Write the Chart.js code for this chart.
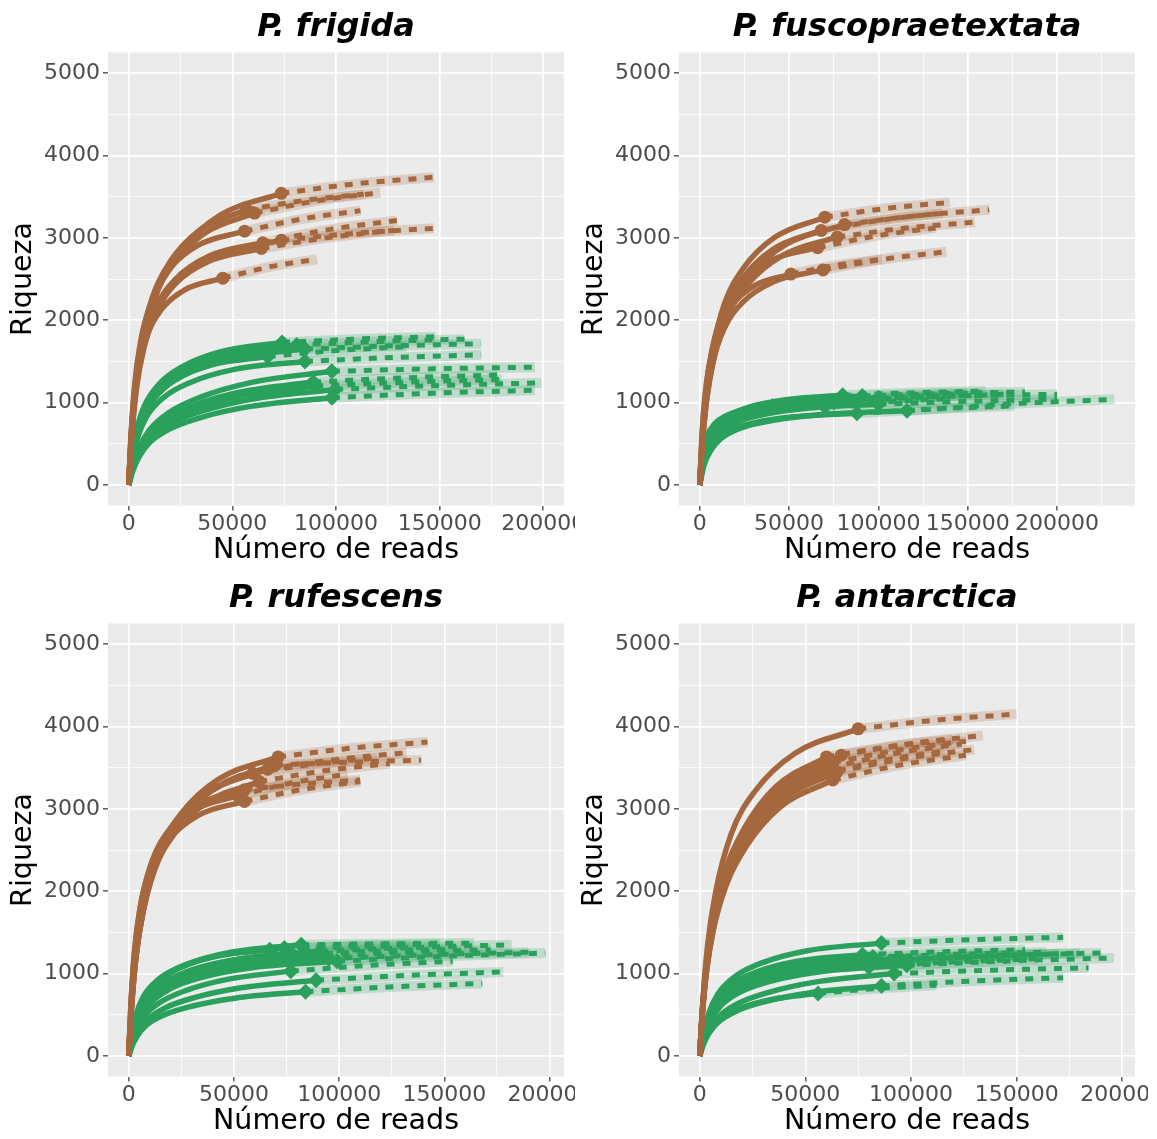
<!DOCTYPE html>
<html>
<head>
<meta charset="utf-8">
<script src="https://cdn.jsdelivr.net/npm/chart.js@4.4.0/dist/chart.umd.min.js"></script>
<style>
  html, body { margin: 0; padding: 0; background: #fff; overflow: hidden; }
  body { width: 1157px; height: 1139px; position: relative; }
  canvas { position: absolute; }
</style>
</head>
<body>
<canvas id="frigida" width="575" height="570" style="left:0;top:0"></canvas>
<canvas id="fusco" width="586" height="570" style="left:571px;top:0"></canvas>
<canvas id="rufescens" width="575" height="570" style="left:0;top:571px"></canvas>
<canvas id="antarctica" width="577" height="570" style="left:571px;top:571px"></canvas>
<script>
// Rarefaction / extrapolation curves, one panel per species

// Sampling of each curve: fraction of the observed number of reads
const depthFractions = [0, 0.02, 0.05, 0.1, 0.2, 0.35, 0.6, 1];
const extrapFactors = [1, 1.5, 2];

// Grid / tick values
const xGridValues = [0, 25000, 50000, 75000, 100000, 125000, 150000, 175000, 200000, 225000];
const yGridValues = [0, 500, 1000, 1500, 2000, 2500, 3000, 3500, 4000, 4500, 5000];

// P. frigida
const frigidaBrownReads = [73600, 60700, 56700, 55900, 64700, 73600, 64000, 45400];
const frigidaBrownRich = [
    [0, 602, 1204, 1770, 2407, 2867, 3275, 3540],
    [0, 561, 1122, 1650, 2244, 2673, 3053, 3300],
    [0, 568, 1136, 1670, 2271, 2705, 3090, 3340],
    [0, 616, 1201, 1725, 2248, 2618, 2911, 3080],
    [0, 588, 1147, 1646, 2146, 2499, 2778, 2940],
    [0, 594, 1158, 1663, 2168, 2525, 2807, 2970],
    [0, 574, 1119, 1607, 2095, 2440, 2712, 2870],
    [0, 502, 979, 1406, 1832, 2134, 2372, 2510]
];
const frigidaBrownExtrap = [[3657, 3735], [3450, 3550], [3454, 3530], [3230, 3330], [3102, 3210], [3057, 3115], [3002, 3090], [2648, 2740]];

const frigidaGreenReads = [74000, 81000, 85000, 67000, 85000, 98000, 89000, 90000, 99600, 98000];
const frigidaGreenRich = [
    [0, 346, 657, 952, 1228, 1436, 1618, 1730],
    [0, 340, 646, 935, 1207, 1411, 1590, 1700],
    [0, 330, 627, 908, 1172, 1370, 1543, 1650],
    [0, 312, 593, 858, 1108, 1295, 1459, 1560],
    [0, 300, 570, 825, 1065, 1245, 1403, 1500],
    [0, 221, 442, 662, 883, 1063, 1242, 1380],
    [0, 200, 400, 600, 800, 963, 1125, 1250],
    [0, 192, 384, 576, 768, 924, 1080, 1200],
    [0, 186, 371, 557, 742, 893, 1044, 1160],
    [0, 170, 339, 509, 678, 816, 954, 1060]
];
const frigidaGreenExtrap = [[1772, 1800], [1742, 1770], [1689, 1715], [1632, 1680], [1548, 1580], [1410, 1430], [1301, 1335], [1248, 1280], [1208, 1240], [1114, 1150]];

// P. fuscopraetextata
const fuscoBrownReads = [70000, 81000, 68000, 77000, 66000, 51000, 69000];
const fuscoBrownRich = [
    [0, 553, 1105, 1625, 2210, 2633, 3006, 3250],
    [0, 537, 1074, 1580, 2149, 2560, 2923, 3160],
    [0, 525, 1051, 1545, 2101, 2503, 2858, 3090],
    [0, 512, 1023, 1505, 2047, 2438, 2784, 3010],
    [0, 576, 1123, 1613, 2102, 2448, 2722, 2880],
    [0, 512, 998, 1434, 1869, 2176, 2419, 2560],
    [0, 522, 1018, 1462, 1905, 2219, 2466, 2610]
];
const fuscoBrownExtrap = [[3358, 3430], [3268, 3340], [3216, 3300], [3118, 3190], [3024, 3120], [2668, 2740], [2742, 2830]];

const fuscoGreenReads = [40800, 80000, 91000, 100000, 88000, 116000, 100000, 75000, 70000, 85000];
const fuscoGreenRich = [
    [0, 250, 432, 595, 739, 835, 912, 960],
    [0, 283, 491, 676, 839, 948, 1036, 1090],
    [0, 281, 486, 670, 832, 940, 1026, 1080],
    [0, 276, 477, 657, 816, 922, 1007, 1060],
    [0, 226, 392, 539, 670, 757, 827, 870],
    [0, 234, 405, 558, 693, 783, 855, 900],
    [0, 255, 441, 608, 755, 853, 931, 980],
    [0, 260, 450, 620, 770, 870, 950, 1000],
    [0, 247, 428, 589, 732, 827, 903, 950],
    [0, 265, 459, 632, 785, 887, 969, 1020]
];
const fuscoGreenExtrap = [[1020, 1060], [1120, 1140], [1110, 1130], [1084, 1100], [924, 960], [984, 1040], [1016, 1040], [1066, 1110], [1010, 1050], [1068, 1100]];

// P. rufescens
const rufescensBrownReads = [71000, 69500, 66000, 59000, 62000, 55000, 52000, 55000];
const rufescensBrownRich = [
    [0, 617, 1234, 1815, 2468, 2940, 3358, 3630],
    [0, 600, 1200, 1765, 2400, 2859, 3265, 3530],
    [0, 592, 1183, 1740, 2366, 2819, 3219, 3480],
    [0, 583, 1166, 1715, 2332, 2778, 3173, 3430],
    [0, 566, 1132, 1665, 2264, 2697, 3080, 3330],
    [0, 646, 1260, 1809, 2358, 2746, 3052, 3230],
    [0, 632, 1232, 1770, 2307, 2686, 2986, 3160],
    [0, 618, 1205, 1730, 2256, 2627, 2920, 3090]
];
const rufescensBrownExtrap = [[3738, 3810], [3566, 3590], [3600, 3680], [3544, 3620], [3462, 3550], [3302, 3350], [3316, 3420], [3234, 3330]];

const rufescensGreenReads = [82000, 67000, 74000, 91000, 78000, 86000, 99000, 95000, 77000, 89000, 84000];
const rufescensGreenRich = [
    [0, 270, 513, 743, 959, 1121, 1262, 1350],
    [0, 258, 490, 710, 916, 1071, 1206, 1290],
    [0, 262, 498, 721, 930, 1087, 1225, 1310],
    [0, 254, 483, 699, 902, 1054, 1187, 1270],
    [0, 246, 467, 677, 873, 1021, 1150, 1230],
    [0, 240, 456, 660, 852, 996, 1122, 1200],
    [0, 230, 437, 633, 817, 955, 1075, 1150],
    [0, 236, 448, 649, 838, 979, 1103, 1180],
    [0, 165, 330, 494, 659, 793, 927, 1030],
    [0, 147, 294, 442, 589, 708, 828, 920],
    [0, 125, 250, 374, 499, 601, 702, 780]
];
const rufescensGreenExtrap = [[1362, 1370], [1320, 1340], [1340, 1360], [1318, 1350], [1272, 1300], [1254, 1290], [1210, 1250], [1228, 1260], [1102, 1150], [980, 1020], [840, 880]];

// P. antarctica
const antarcticaBrownReads = [75000, 67000, 60000, 63000, 62000, 65000, 63000, 58000];
const antarcticaBrownRich = [
    [0, 675, 1350, 1985, 2700, 3216, 3672, 3970],
    [0, 548, 1095, 1643, 2263, 2774, 3285, 3650],
    [0, 545, 1089, 1634, 2251, 2759, 3267, 3630],
    [0, 534, 1068, 1602, 2207, 2706, 3204, 3560],
    [0, 525, 1050, 1575, 2170, 2660, 3150, 3500],
    [0, 518, 1035, 1553, 2139, 2622, 3105, 3450],
    [0, 503, 1005, 1508, 2077, 2546, 3015, 3350],
    [0, 513, 1026, 1539, 2120, 2599, 3078, 3420]
];
const antarcticaBrownExtrap = [[4078, 4150], [3794, 3890], [3756, 3840], [3716, 3820], [3674, 3790], [3612, 3720], [3530, 3650], [3588, 3700]];

const antarcticaGreenReads = [86000, 77000, 82000, 90000, 98000, 92000, 86000, 56000, 80000, 95000, 85000];
const antarcticaGreenRich = [
    [0, 274, 521, 754, 973, 1137, 1281, 1370],
    [0, 246, 467, 677, 873, 1021, 1150, 1230],
    [0, 240, 456, 660, 852, 996, 1122, 1200],
    [0, 230, 437, 633, 817, 955, 1075, 1150],
    [0, 220, 418, 605, 781, 913, 1029, 1100],
    [0, 160, 320, 480, 640, 770, 900, 1000],
    [0, 136, 272, 408, 544, 655, 765, 850],
    [0, 122, 243, 365, 486, 585, 684, 760],
    [0, 216, 410, 594, 767, 896, 1010, 1080],
    [0, 236, 448, 649, 838, 979, 1103, 1180],
    [0, 230, 437, 633, 817, 955, 1075, 1150]
];
const antarcticaGreenExtrap = [[1412, 1440], [1266, 1290], [1236, 1260], [1210, 1250], [1154, 1190], [1042, 1070], [910, 950], [820, 860], [1140, 1180], [1222, 1250], [1204, 1240]];

// Colours
const BROWN = '#A5683E';
const GREEN = '#2AA05D';
const BROWN_BAND = 'rgba(165, 104, 62, 0.22)';
const GREEN_BAND = 'rgba(42, 160, 93, 0.22)';
const FONT = 'DejaVu Sans';

// Grey panel background behind the grid
const panelBackground = {
    id: 'panelBackground',
    beforeDraw(chart) {
        const { ctx, chartArea: a } = chart;
        ctx.save();
        ctx.fillStyle = '#EBEBEB';
        ctx.fillRect(a.left, a.top, a.right - a.left, a.bottom - a.top);
        ctx.restore();
    }
};

// Build the datasets of one group (solid rarefaction, band, dashed extrapolation, marker)
function groupDatasets(reads, rich, extrap, color, band, marker, layer) {
    const sets = [];
    reads.forEach((n, i) => {
        const obs = rich[i][rich[i].length - 1];
        const ext = extrapFactors.map((f, j) => ({ x: f * n, y: j === 0 ? obs : extrap[i][j - 1] }));
        sets.push({
            data: depthFractions.map((f, j) => ({ x: f * n, y: rich[i][j] })),
            borderColor: color, borderWidth: 5.5, pointRadius: 0,
            cubicInterpolationMode: 'monotone', order: 20 + layer
        });
        sets.push({
            data: ext, borderColor: band, borderWidth: 10, pointRadius: 0,
            cubicInterpolationMode: 'monotone', order: 40 + layer
        });
        sets.push({
            data: ext, borderColor: color, borderWidth: 5, borderDash: [8, 8], pointRadius: 0,
            cubicInterpolationMode: 'monotone', order: 30 + layer
        });
        sets.push({
            data: [{ x: n, y: obs }], showLine: false, pointStyle: marker,
            pointRadius: marker === 'circle' ? 6.5 : 8, pointBackgroundColor: color,
            pointBorderWidth: 0, order: 10 + layer
        });
    });
    return sets;
}

function isMajorX(v) { return v % 50000 === 0; }
function isMajorY(v) { return v % 1000 === 0; }

function makePanel(canvasId, title, xMin, xMax, rightPad, datasets) {
    const ctx = document.getElementById(canvasId).getContext('2d');
    return new Chart(ctx, {
        type: 'line',
        data: { datasets },
        plugins: [panelBackground],
        options: {
            responsive: false,
            animation: false,
            events: [],
            layout: { padding: { left: 0, right: rightPad, top: 0, bottom: 0 } },
            plugins: {
                legend: { display: false },
                tooltip: { enabled: false },
                title: {
                    display: true, text: title, fullSize: false, color: '#000000',
                    font: { family: FONT, size: 32, weight: 'bold', style: 'italic' },
                    padding: { top: 8.4, bottom: 5.6 }
                }
            },
            scales: {
                x: {
                    type: 'linear', min: xMin, max: xMax,
                    afterBuildTicks: s => { s.ticks = xGridValues.filter(v => v <= xMax).map(v => ({ value: v })); },
                    afterFit: s => { s.height = 64.4; s.paddingLeft = 0; s.paddingRight = 0; },
                    border: { display: false },
                    grid: {
                        color: '#FFFFFF',
                        lineWidth: c => isMajorX(c.tick.value) ? 1.7 : 0.8,
                        tickColor: c => isMajorX(c.tick.value) ? '#333333' : 'rgba(0,0,0,0)',
                        tickWidth: 1.2, tickLength: 5
                    },
                    ticks: {
                        autoSkip: false, maxRotation: 0, padding: 0, color: '#4D4D4D',
                        font: { family: FONT, size: 22 },
                        callback: v => isMajorX(v) ? String(v) : ''
                    },
                    title: {
                        display: true, text: 'Número de reads', color: '#000000',
                        font: { family: FONT, size: 28.5 }, padding: { top: 0, bottom: 2.8 }
                    }
                },
                y: {
                    type: 'linear', min: -250, max: 5250,
                    afterBuildTicks: s => { s.ticks = yGridValues.map(v => ({ value: v })); },
                    afterFit: s => { s.width = 108; s.paddingTop = 0; s.paddingBottom = 0; },
                    border: { display: false },
                    grid: {
                        color: '#FFFFFF',
                        lineWidth: c => isMajorY(c.tick.value) ? 1.7 : 0.8,
                        tickColor: c => isMajorY(c.tick.value) ? '#333333' : 'rgba(0,0,0,0)',
                        tickWidth: 1.2, tickLength: 5
                    },
                    ticks: {
                        autoSkip: false, padding: 3, color: '#4D4D4D',
                        font: { family: FONT, size: 22 },
                        callback: v => isMajorY(v) ? String(v) : ''
                    },
                    title: {
                        display: true, text: 'Riqueza', color: '#000000',
                        font: { family: FONT, size: 28.5 }, padding: { top: 6, bottom: 0 }
                    }
                }
            }
        }
    });
}

makePanel('frigida', 'P. frigida', -10000, 210000, 11, [
    ...groupDatasets(frigidaGreenReads, frigidaGreenRich, frigidaGreenExtrap, GREEN, GREEN_BAND, 'rectRot', 1),
    ...groupDatasets(frigidaBrownReads, frigidaBrownRich, frigidaBrownExtrap, BROWN, BROWN_BAND, 'circle', 0)
]);
makePanel('fusco', 'P. fuscopraetextata', -11600, 243600, 22, [
    ...groupDatasets(fuscoGreenReads, fuscoGreenRich, fuscoGreenExtrap, GREEN, GREEN_BAND, 'rectRot', 1),
    ...groupDatasets(fuscoBrownReads, fuscoBrownRich, fuscoBrownExtrap, BROWN, BROWN_BAND, 'circle', 0)
]);
makePanel('rufescens', 'P. rufescens', -9850, 206850, 11, [
    ...groupDatasets(rufescensGreenReads, rufescensGreenRich, rufescensGreenExtrap, GREEN, GREEN_BAND, 'rectRot', 1),
    ...groupDatasets(rufescensBrownReads, rufescensBrownRich, rufescensBrownExtrap, BROWN, BROWN_BAND, 'circle', 0)
]);
makePanel('antarctica', 'P. antarctica', -9800, 206000, 13, [
    ...groupDatasets(antarcticaGreenReads, antarcticaGreenRich, antarcticaGreenExtrap, GREEN, GREEN_BAND, 'rectRot', 1),
    ...groupDatasets(antarcticaBrownReads, antarcticaBrownRich, antarcticaBrownExtrap, BROWN, BROWN_BAND, 'circle', 0)
]);
</script>
</body>
</html>
